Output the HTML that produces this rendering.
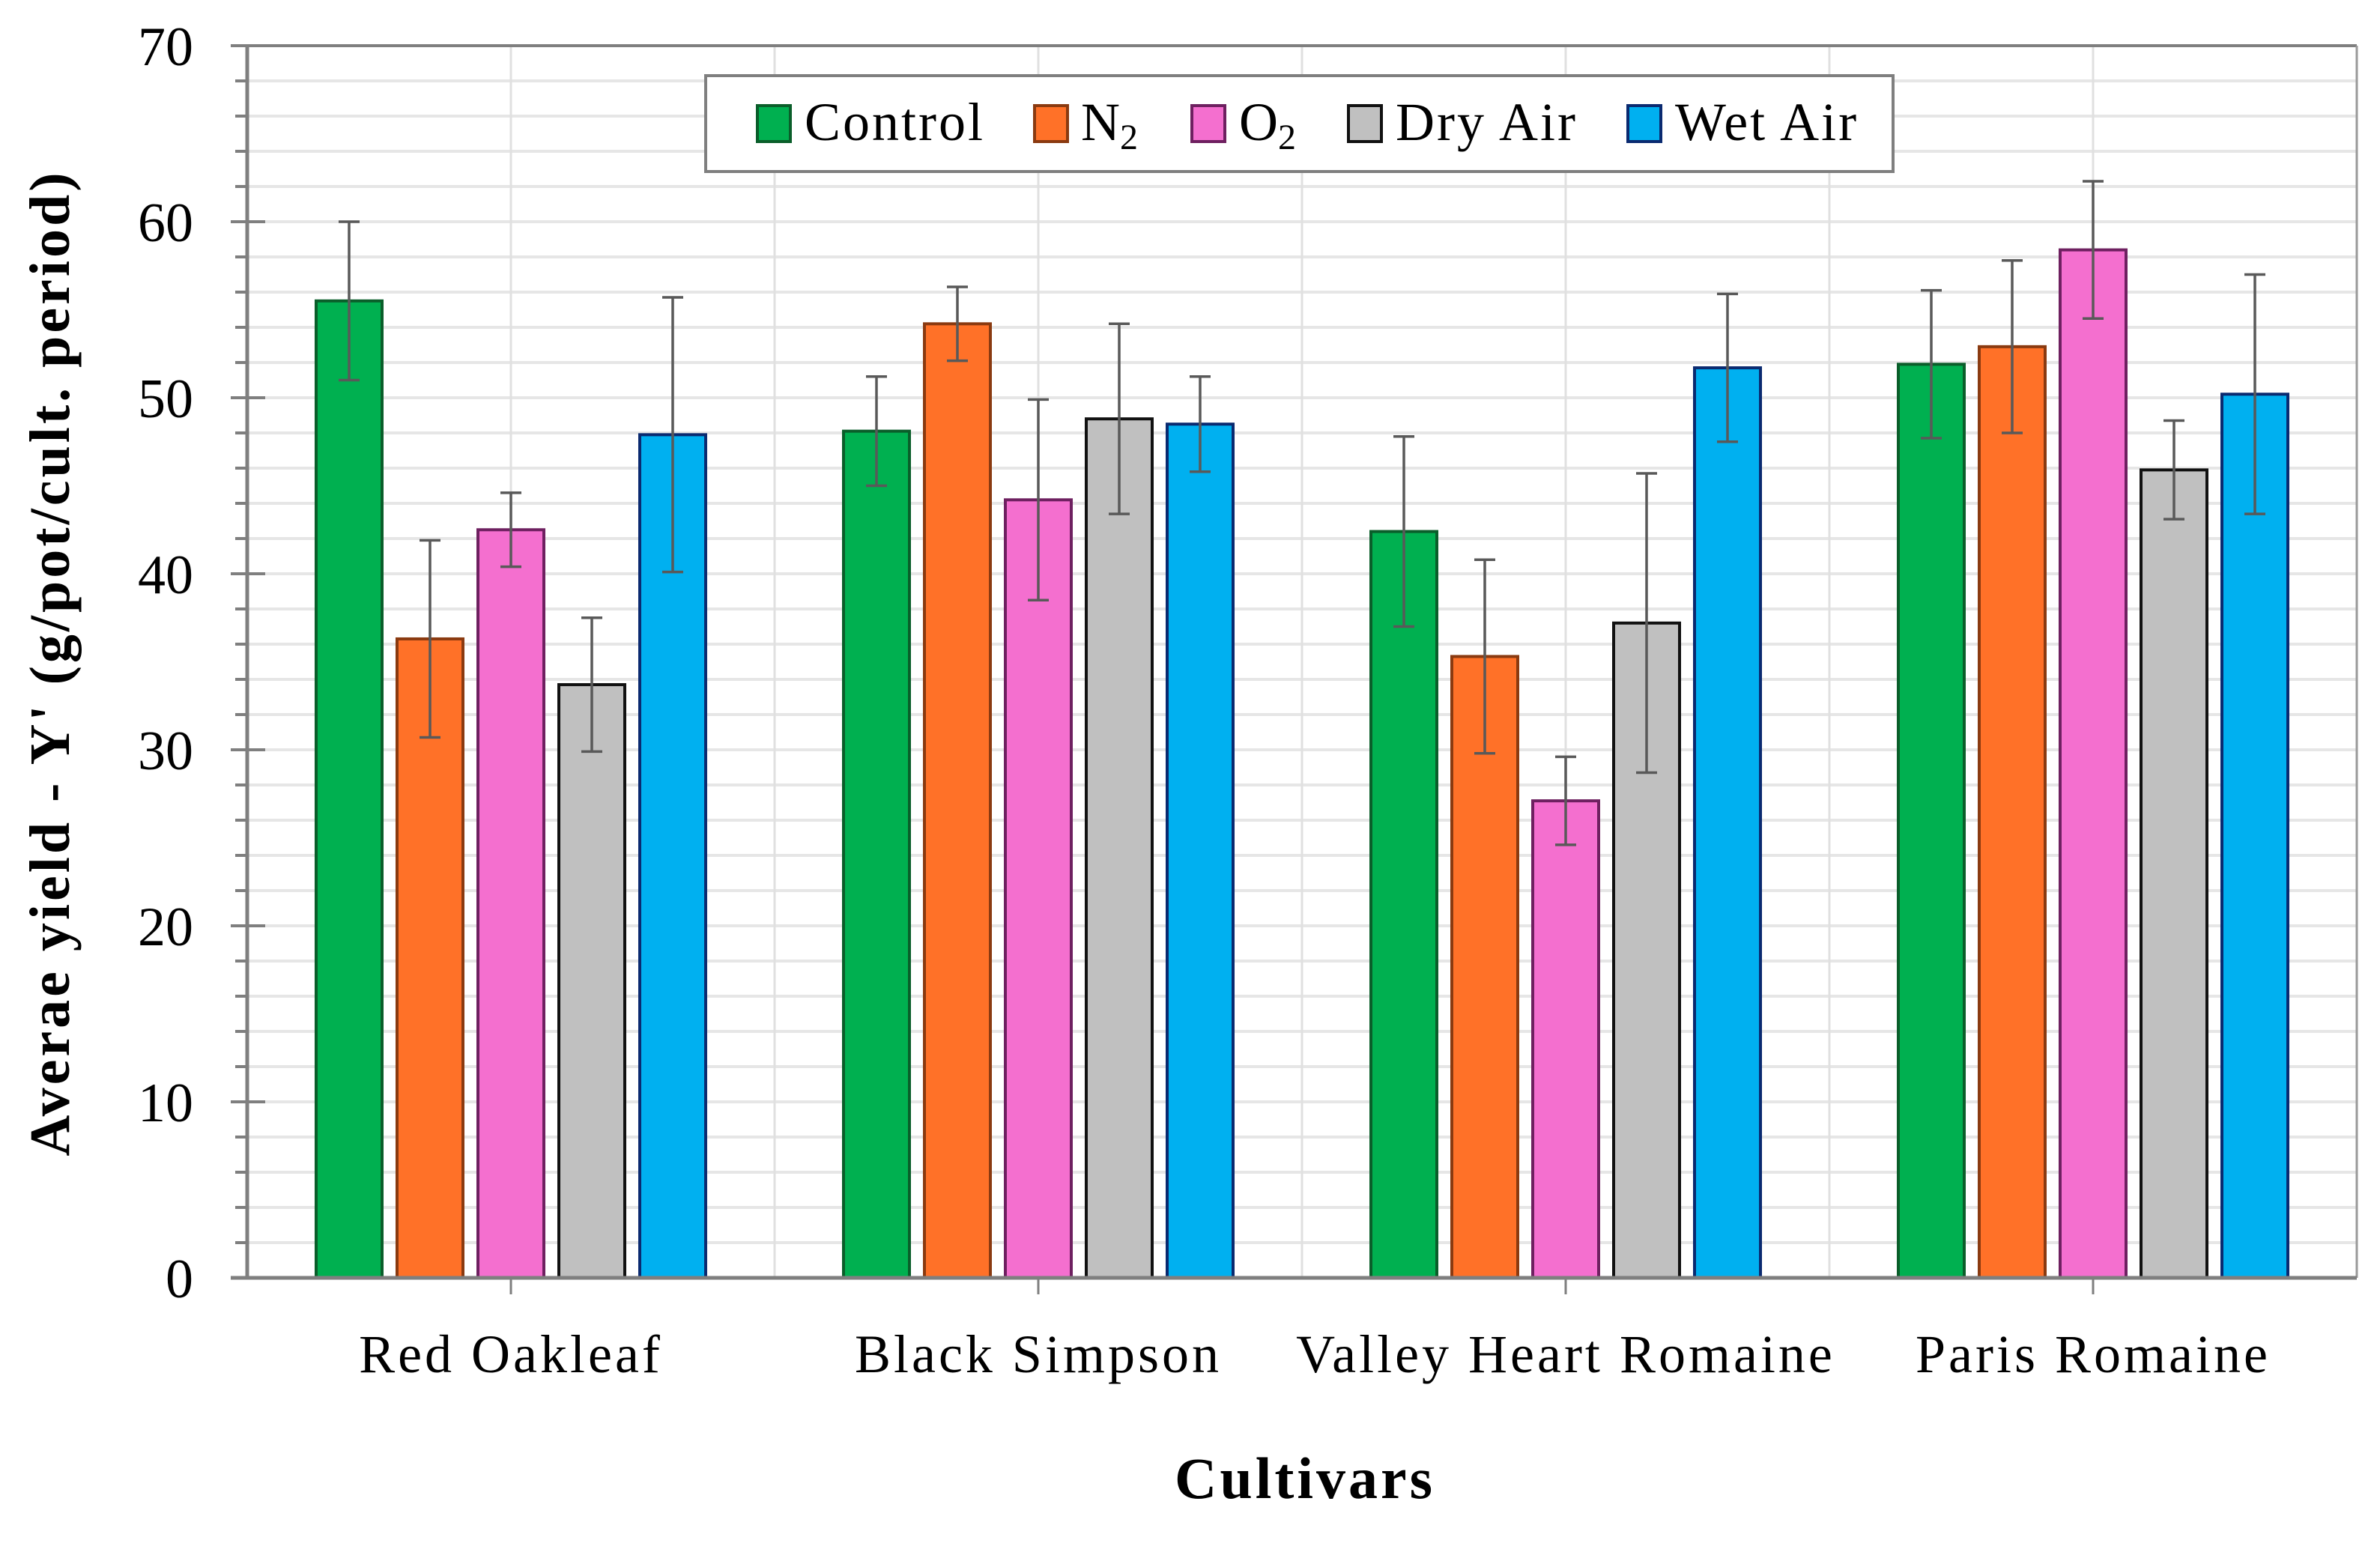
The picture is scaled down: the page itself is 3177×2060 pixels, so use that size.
<!DOCTYPE html>
<html><head><meta charset="utf-8"><style>
html,body{margin:0;padding:0;background:#fff;}
svg{display:block;}
text{font-family:"Liberation Serif",serif;fill:#000;}
</style></head><body>
<svg id="chart" width="3177" height="2060" viewBox="0 0 3177 2060" xmlns="http://www.w3.org/2000/svg">
<g id="grid"></g>
<g id="bars"></g>
<g id="axes"></g>
<text transform="translate(92,885) rotate(-90)" text-anchor="middle" font-size="76" font-weight="bold" letter-spacing="4">Averae yield - Y' (g/pot/cult. period)</text>
<text x="1742" y="2000" text-anchor="middle" font-size="78" font-weight="bold" letter-spacing="4">Cultivars</text>
<g>
<rect x="942" y="101" width="1585" height="128" fill="#fff" stroke="#7f7f7f" stroke-width="4"/>
<g><rect x="1011" y="141" width="44" height="48" fill="#00B050" stroke="#0a5e2a" stroke-width="4"/><text x="1074" y="187" font-size="72" letter-spacing="3">Control</text></g>
<g><rect x="1381" y="141" width="44" height="48" fill="#FF7128" stroke="#8a3a10" stroke-width="4"/><text x="1443" y="187" font-size="72">N<tspan font-size="48" dy="12">2</tspan></text></g>
<g><rect x="1591" y="141" width="44" height="48" fill="#F46FCF" stroke="#6e2060" stroke-width="4"/><text x="1654" y="187" font-size="72">O<tspan font-size="48" dy="12">2</tspan></text></g>
<g><rect x="1800" y="141" width="44" height="48" fill="#C0C0C0" stroke="#111" stroke-width="4"/><text x="1863" y="187" font-size="72" letter-spacing="3">Dry Air</text></g>
<g><rect x="2173" y="141" width="44" height="48" fill="#00B0F0" stroke="#0a2a70" stroke-width="4"/><text x="2236" y="187" font-size="72" letter-spacing="3">Wet Air</text></g>
</g>
</svg>
<script>
const categories = ["Red Oakleaf","Black Simpson","Valley Heart Romaine","Paris Romaine"];
const seriesNames = ["Control","N2","O2","Dry Air","Wet Air"];
const controlVals = [55.5,48.1,42.4,51.9];
const n2Vals = [36.3,54.2,35.3,52.9];
const o2Vals = [42.5,44.2,27.1,58.4];
const dryVals = [33.7,48.8,37.2,45.9];
const wetVals = [47.9,48.5,51.7,50.2];
const controlErr = [4.5,3.1,5.4,4.2];
const n2Err = [5.6,2.1,5.5,4.9];
const o2Err = [2.1,5.7,2.5,3.9];
const dryErr = [3.8,5.4,8.5,2.8];
const wetErr = [7.8,2.7,4.2,6.8];
const yTicks = [0,10,20,30,40,50,60,70];

const NS="http://www.w3.org/2000/svg";
const X0=330,X1=3146,Y0=1706,Y70=61;
const yScale=v=>Y0-(v/70)*(Y0-Y70);
const catW=(X1-X0)/categories.length;
const catCenter=i=>X0+catW*(i+0.5);
const barW=88,pitch=108;
const fills=["#00B050","#FF7128","#F46FCF","#C0C0C0","#00B0F0"];
const strokes=["#0a5e2a","#8a3a10","#6e2060","#111","#0a2a70"];
const vals=[controlVals,n2Vals,o2Vals,dryVals,wetVals];
const errs=[controlErr,n2Err,o2Err,dryErr,wetErr];
function mk(tag,attrs,parent){const e=document.createElementNS(NS,tag);for(const k in attrs)e.setAttribute(k,attrs[k]);parent.appendChild(e);return e;}
const grid=document.getElementById('grid'),bars=document.getElementById('bars'),axes=document.getElementById('axes');
for(let v=2;v<=70;v+=2){const l=mk('line',{x1:X0,x2:X1,y1:yScale(v),y2:yScale(v),stroke:'#e6e6e6','stroke-width':4},grid);

}
for(let k=1;k<=8;k++){const x=X0+k*catW/2;const l=mk('line',{x1:x,x2:x,y1:Y70,y2:Y0,stroke:'#e0e0e0','stroke-width':3},grid);

}
for(let s=0;s<5;s++){for(let c=0;c<categories.length;c++){
const cx=catCenter(c)+(s-2)*pitch;const v=vals[s][c],e=errs[s][c];
const r=mk('rect',{x:cx-barW/2,y:yScale(v),width:barW,height:Y0-yScale(v),fill:fills[s],stroke:strokes[s],'stroke-width':4},bars);


const g=mk('g',{stroke:'#595959','stroke-width':3.5},bars);


mk('line',{x1:cx,x2:cx,y1:yScale(v+e),y2:yScale(v-e)},g);
mk('line',{x1:cx-14,x2:cx+14,y1:yScale(v+e),y2:yScale(v+e)},g);
mk('line',{x1:cx-14,x2:cx+14,y1:yScale(v-e),y2:yScale(v-e)},g);
}}
let a=mk('line',{x1:X0,x2:X0,y1:Y70,y2:Y0,stroke:'#7f7f7f','stroke-width':5},axes);


a=mk('line',{x1:X0,x2:X1,y1:Y70,y2:Y70,stroke:'#7f7f7f','stroke-width':4},axes);


a=mk('line',{x1:X1,x2:X1,y1:Y70,y2:Y0,stroke:'#9a9a9a','stroke-width':3},axes);


a=mk('line',{x1:X0-22,x2:X1,y1:Y0,y2:Y0,stroke:'#7f7f7f','stroke-width':5},axes);


for(let v=2;v<70;v+=2){if(v%10===0)continue;const l=mk('line',{x1:X0-16,x2:X0,y1:yScale(v),y2:yScale(v),stroke:'#7f7f7f','stroke-width':4},axes);

}
yTicks.forEach(v=>{const l=mk('line',{x1:X0-22,x2:X0+24,y1:yScale(v),y2:yScale(v),stroke:'#7f7f7f','stroke-width':4},axes);


const t=mk('text',{x:258,y:yScale(v)+26,'text-anchor':'end','font-size':74},axes);t.textContent=v;

});
categories.forEach((c,i)=>{const x=catCenter(i);
const l=mk('line',{x1:x,x2:x,y1:Y0,y2:Y0+22,stroke:'#7f7f7f','stroke-width':3},axes);


const t=mk('text',{x:x,y:1832,'text-anchor':'middle','font-size':72,'letter-spacing':4},axes);t.textContent=c;

});
</script>
</body></html>
